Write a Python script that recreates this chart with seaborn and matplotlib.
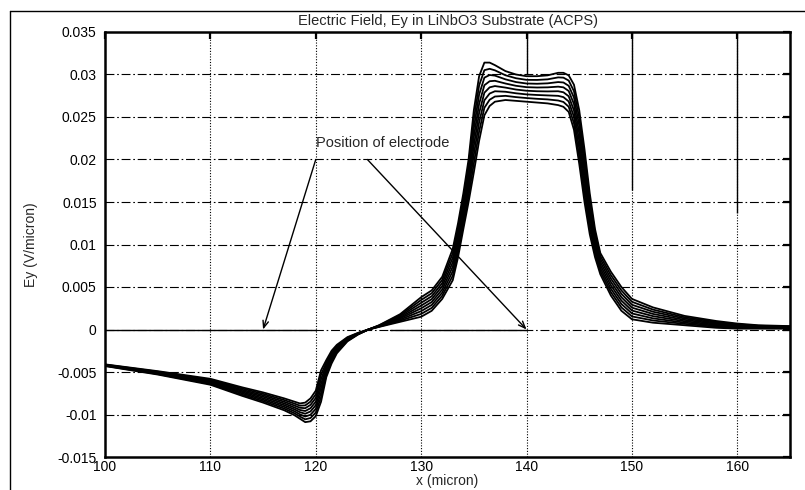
import matplotlib
matplotlib.use("Agg")
import matplotlib.pyplot as plt
import seaborn as sns
import pandas as pd
from matplotlib.lines import Line2D

# ---------------- data ----------------
x_micron = [100, 105, 110, 113, 115, 117, 118, 118.5, 119, 119.5,
            120, 120.5, 121, 121.5, 122, 123, 124, 125, 126, 128,
            130, 131, 132, 133, 133.5, 134, 134.5, 135, 135.5, 136,
            136.5, 137, 138, 139, 140, 141, 142, 143, 143.5, 144,
            144.5, 145, 145.5, 146, 146.5, 147, 148, 149, 150, 152,
            155, 158, 160, 162, 165]

ey_1 = [-0.0043, -0.0053, -0.0065, -0.0078, -0.0086, -0.0095, -0.0101, -0.0105, -0.0109, -0.0108,
        -0.0102, -0.0085, -0.0056, -0.0040, -0.0028, -0.0014, -0.0006, 0.0, 0.0005, 0.0018,
        0.0038, 0.0046, 0.0062, 0.0095, 0.0125, 0.0160, 0.0200, 0.0258, 0.0298, 0.0314,
        0.0314, 0.0311, 0.0304, 0.0300, 0.0298, 0.0298, 0.0299, 0.0302, 0.0302, 0.0299,
        0.0288, 0.0258, 0.0212, 0.0160, 0.0118, 0.0090, 0.0068, 0.0050, 0.0036, 0.0026,
        0.0016, 0.0010, 0.0007, 0.0005, 0.0004]
ey_2 = [-0.00427, -0.00524, -0.0064, -0.00766, -0.00843, -0.0093, -0.00987, -0.01024, -0.01057, -0.01041,
        -0.00977, -0.00797, -0.00531, -0.00379, -0.00266, -0.00133, -0.00057, 0.0, 0.00047, 0.00167,
        0.00347, 0.00426, 0.00583, 0.00897, 0.01193, 0.0154, 0.01929, 0.02476, 0.02871, 0.03051,
        0.03067, 0.03049, 0.02991, 0.02956, 0.02937, 0.02936, 0.02943, 0.02966, 0.02963, 0.02929,
        0.02804, 0.0249, 0.02031, 0.01531, 0.01133, 0.00864, 0.0064, 0.0046, 0.00326, 0.00234,
        0.00144, 0.00089, 0.00061, 0.00044, 0.00036]
ey_3 = [-0.00424, -0.00519, -0.0063, -0.00751, -0.00826, -0.0091, -0.00964, -0.00999, -0.01024, -0.01003,
        -0.00934, -0.00744, -0.00503, -0.00357, -0.00251, -0.00126, -0.00054, 0.0, 0.00044, 0.00154,
        0.00314, 0.00391, 0.00546, 0.00844, 0.01136, 0.0148, 0.01857, 0.02371, 0.02763, 0.02963,
        0.02994, 0.02987, 0.02943, 0.02911, 0.02894, 0.02891, 0.02896, 0.02911, 0.02906, 0.02867,
        0.02729, 0.024, 0.01943, 0.01463, 0.01086, 0.00829, 0.006, 0.0042, 0.00291, 0.00209,
        0.00129, 0.00077, 0.00053, 0.00039, 0.00031]
ey_4 = [-0.00421, -0.00513, -0.0062, -0.00737, -0.00809, -0.0089, -0.00941, -0.00973, -0.00991, -0.00964,
        -0.00891, -0.00691, -0.00474, -0.00336, -0.00237, -0.00119, -0.00051, 0.0, 0.00041, 0.00141,
        0.00281, 0.00357, 0.00509, 0.00791, 0.01079, 0.0142, 0.01786, 0.02267, 0.02654, 0.02874,
        0.02921, 0.02926, 0.02894, 0.02867, 0.02851, 0.02847, 0.02849, 0.02857, 0.02849, 0.02806,
        0.02653, 0.0231, 0.01854, 0.01394, 0.01039, 0.00793, 0.0056, 0.0038, 0.00257, 0.00183,
        0.00113, 0.00066, 0.00044, 0.00033, 0.00027]
ey_5 = [-0.00419, -0.00507, -0.0061, -0.00723, -0.00791, -0.0087, -0.00919, -0.00947, -0.00959, -0.00926,
        -0.00849, -0.00639, -0.00446, -0.00314, -0.00223, -0.00111, -0.00049, 0.0, 0.00039, 0.00129,
        0.00249, 0.00323, 0.00471, 0.00739, 0.01021, 0.0136, 0.01714, 0.02163, 0.02546, 0.02786,
        0.02849, 0.02864, 0.02846, 0.02823, 0.02809, 0.02803, 0.02801, 0.02803, 0.02791, 0.02744,
        0.02577, 0.0222, 0.01766, 0.01326, 0.00991, 0.00757, 0.0052, 0.0034, 0.00223, 0.00157,
        0.00097, 0.00054, 0.00036, 0.00027, 0.00023]
ey_6 = [-0.00416, -0.00501, -0.006, -0.00709, -0.00774, -0.0085, -0.00896, -0.00921, -0.00926, -0.00887,
        -0.00806, -0.00586, -0.00417, -0.00293, -0.00209, -0.00104, -0.00046, 0.0, 0.00036, 0.00116,
        0.00216, 0.00289, 0.00434, 0.00686, 0.00964, 0.013, 0.01643, 0.02059, 0.02437, 0.02697,
        0.02776, 0.02803, 0.02797, 0.02779, 0.02766, 0.02759, 0.02754, 0.02749, 0.02734, 0.02683,
        0.02501, 0.0213, 0.01677, 0.01257, 0.00944, 0.00721, 0.0048, 0.003, 0.00189, 0.00131,
        0.00081, 0.00043, 0.00027, 0.00021, 0.00019]
ey_7 = [-0.00413, -0.00496, -0.0059, -0.00694, -0.00757, -0.0083, -0.00873, -0.00896, -0.00893, -0.00849,
        -0.00763, -0.00533, -0.00389, -0.00271, -0.00194, -0.00097, -0.00043, 0.0, 0.00033, 0.00103,
        0.00183, 0.00254, 0.00397, 0.00633, 0.00907, 0.0124, 0.01571, 0.01954, 0.02329, 0.02609,
        0.02703, 0.02741, 0.02749, 0.02734, 0.02723, 0.02714, 0.02707, 0.02694, 0.02677, 0.02621,
        0.02426, 0.0204, 0.01589, 0.01189, 0.00897, 0.00686, 0.0044, 0.0026, 0.00154, 0.00106,
        0.00066, 0.00031, 0.00019, 0.00016, 0.00014]
ey_8 = [-0.0041, -0.0049, -0.0058, -0.0068, -0.0074, -0.0081, -0.0085, -0.0087, -0.0086, -0.0081,
        -0.0072, -0.0048, -0.0036, -0.0025, -0.0018, -0.0009, -0.0004, 0.0, 0.0003, 0.0009,
        0.0015, 0.0022, 0.0036, 0.0058, 0.0085, 0.0118, 0.0150, 0.0185, 0.0222, 0.0252,
        0.0263, 0.0268, 0.0270, 0.0269, 0.0268, 0.0267, 0.0266, 0.0264, 0.0262, 0.0256,
        0.0235, 0.0195, 0.0150, 0.0112, 0.0085, 0.0065, 0.0040, 0.0022, 0.0012, 0.0008,
        0.0005, 0.0002, 0.0001, 0.0001, 0.0001]

x_ticks = [100, 110, 120, 130, 140, 150, 160]
x_tick_labels = ["100", "110", "120", "130", "140", "150", "160"]
y_ticks = [-0.015, -0.01, -0.005, 0, 0.005, 0.01, 0.015, 0.02, 0.025, 0.03, 0.035]
y_tick_labels = ["-0.015", "-0.01", "-0.005", "0", "0.005", "0.01", "0.015",
                 "0.02", "0.025", "0.03", "0.035"]

title_text = "Electric Field, Ey in LiNbO3 Substrate (ACPS)"
x_label = "x (micron)"
y_label = "Ey (V/micron)"
note_text = "Position of electrode"
electrode_positions = [115, 140]

# ---------------- build long-form table ----------------
curves = [ey_1, ey_2, ey_3, ey_4, ey_5, ey_6, ey_7, ey_8]
rows = []
for i, ys in enumerate(curves):
    for xv, yv in zip(x_micron, ys):
        rows.append((xv, yv, f"c{i + 1}"))
df = pd.DataFrame(rows, columns=["x", "Ey", "curve"])

# ---------------- style ----------------
sns.set_style("white")
plt.rcParams["font.family"] = ["Liberation Sans", "DejaVu Sans"]

fig = plt.figure(figsize=(8.05, 4.90), dpi=100)
ax = fig.add_axes([105 / 805, 1 - 457 / 490, 685 / 805, 425 / 490])

# grid: dotted verticals, dash-dot horizontals
for xv in x_ticks[1:]:
    ax.axvline(xv, color="black", lw=0.8, linestyle=(0, (1, 1.5)), zorder=1)
for yv in y_ticks[1:-1]:
    ax.axhline(yv, color="black", lw=0.8, linestyle=(0, (8, 2.5, 1.5, 2.5)), zorder=1)

sns.lineplot(data=df, x="x", y="Ey", hue="curve", palette=["black"] * len(curves),
             legend=False, lw=1.3, estimator=None, sort=False, ax=ax, zorder=3)

# solid reference segments visible in the original
ax.plot([100, 120], [0, 0], color="black", lw=1.0, zorder=2)
ax.plot([127, 140], [0, 0], color="black", lw=1.0, zorder=2)
ax.vlines([140], 0.0300, 0.035, color="black", lw=1.0, zorder=2)
ax.vlines([150], 0.0164, 0.035, color="black", lw=1.0, zorder=2)
ax.vlines([160], 0.0137, 0.035, color="black", lw=1.0, zorder=2)

ax.set_xlim(100, 165)
ax.set_ylim(-0.015, 0.035)
ax.set_xticks(x_ticks)
ax.set_xticklabels(x_tick_labels)
ax.set_yticks(y_ticks)
ax.set_yticklabels(y_tick_labels)
ax.tick_params(direction="in", length=5, width=1.6, top=True, right=True,
               labelsize=10, colors="black")
ax.tick_params(axis="x", pad=2.5)
ax.tick_params(axis="y", pad=6)
for s in ax.spines.values():
    s.set_linewidth(1.8)
    s.set_color("black")

ax.set_title(title_text, fontsize=10.5, pad=5)
ax.set_xlabel(x_label, fontsize=10)
ax.set_ylabel(y_label, fontsize=10)
ax.xaxis.set_label_coords(0.5, -0.039)
ax.yaxis.set_label_coords(-0.098, 0.5)

# annotation
ax.text(120.0, 0.0219, note_text, fontsize=10.5, ha="left", va="center", zorder=5)
arrow_starts = [(120.0, 0.0200), (124.9, 0.0200)]
for (sx, sy), ex in zip(arrow_starts, electrode_positions):
    ax.annotate("", xy=(ex, 0), xytext=(sx, sy),
                arrowprops=dict(arrowstyle="->,head_length=0.5,head_width=0.2",
                                color="black", lw=1.0, shrinkA=0, shrinkB=0),
                zorder=5)

# outer frame lines (top and left), as in the scanned original
fig.add_artist(Line2D([10 / 805, 1.0], [1 - 10.7 / 490, 1 - 10.7 / 490],
                      color="black", lw=1.0, transform=fig.transFigure))
fig.add_artist(Line2D([10 / 805, 10 / 805], [0.0, 1 - 10.7 / 490],
                      color="black", lw=1.0, transform=fig.transFigure))

fig.savefig("out.png", dpi=100, facecolor="white")
